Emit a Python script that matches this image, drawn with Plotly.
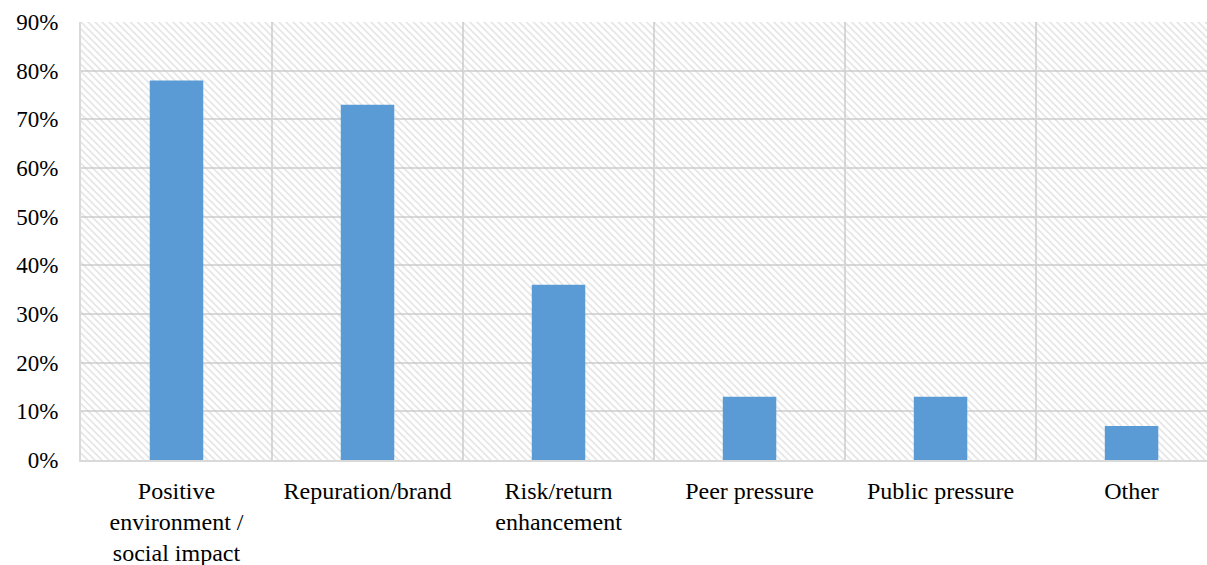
import plotly.graph_objects as go

categories = ["Positive<br>environment /<br>social impact", "Repuration/brand",
              "Risk/return<br>enhancement", "Peer pressure", "Public pressure", "Other"]
values = [78, 73, 36, 13, 13, 7]
y_ticks = [0, 10, 20, 30, 40, 50, 60, 70, 80, 90]
y_ticklabels = [f"{v}%" for v in y_ticks]

x_pos = list(range(len(categories)))
x_range = [-0.5, 5.395]

fig = go.Figure()

# hatched plot-area background
fig.add_trace(go.Bar(
    x=[(x_range[0] + x_range[1]) / 2], y=[90], width=[x_range[1] - x_range[0]],
    marker=dict(color="rgba(0,0,0,0)", line=dict(width=0),
                pattern=dict(shape="\\", size=5, solidity=0.3, fgcolor="#c6c6c6",
                             bgcolor="rgba(0,0,0,0)", fillmode="overlay")),
    hoverinfo="skip", showlegend=False,
))

fig.add_trace(go.Bar(
    x=x_pos, y=values, width=0.28,
    marker=dict(color="#5B9BD5", line=dict(width=0)),
    showlegend=False,
))

fig.update_layout(
    width=1207, height=565,
    margin=dict(l=81, r=0, t=22, b=105),
    barmode="overlay",
    paper_bgcolor="white", plot_bgcolor="white",
    font=dict(family="Liberation Serif", size=23, color="black"),
)
fig.update_xaxes(
    range=x_range, tickvals=x_pos, ticktext=categories,
    tickfont=dict(size=24), automargin=False,
    showgrid=False, zeroline=False,
    showline=True, linecolor="#d9d9d9", linewidth=2,
    ticks="", ticklabelstandoff=8,
    minor=dict(tick0=-0.5, dtick=1, showgrid=True, gridcolor="#d9d9d9", gridwidth=2),
)
fig.update_yaxes(
    range=[0, 90], tickvals=y_ticks, ticktext=y_ticklabels,
    tickfont=dict(size=23), automargin=False,
    showgrid=True, gridcolor="#d9d9d9", gridwidth=2, zeroline=False,
    showline=True, linecolor="#d9d9d9", linewidth=2,
    ticks="", ticklabelstandoff=16,
)

fig.write_html(
    "out.html",
    config={"displayModeBar": False},
    post_script="document.body.style.margin='0';document.body.style.overflow='hidden';",
)
